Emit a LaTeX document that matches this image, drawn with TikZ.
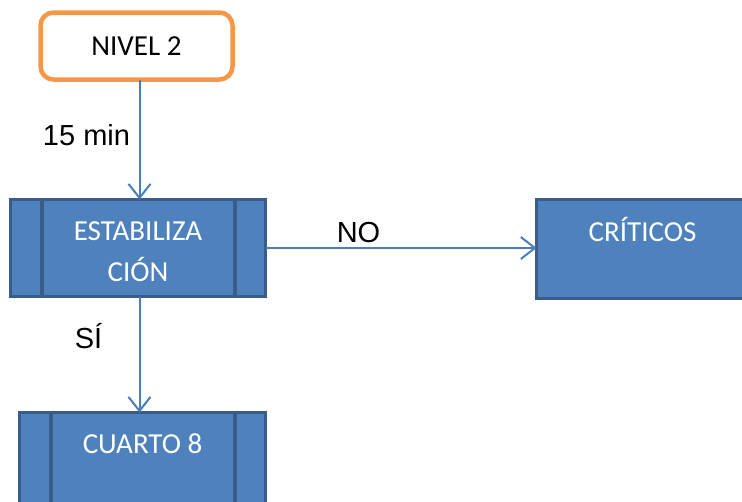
\documentclass[tikz,border=0pt]{standalone}
\usepackage{fontspec}
\setmainfont{Carlito}
\newfontfamily\arialfont{Liberation Sans}
\usetikzlibrary{arrows.meta}
\definecolor{boxfill}{HTML}{4F81BD}
\definecolor{boxedge}{HTML}{385D8A}
\definecolor{orangeedge}{HTML}{F79646}
\definecolor{linkc}{HTML}{4A7EBB}
\newcommand{\toplift}{\rule{0pt}{27pt}}
\begin{document}
\begin{tikzpicture}[x=1pt,y=-1pt,
  procbox/.style={draw=boxedge, fill=boxfill, line width=3pt, text=white,
    font=\fontsize{29}{41}\selectfont, align=center, inner sep=0pt, outer sep=0pt},
  startbox/.style={draw=orangeedge, line width=4.5pt, rounded corners=13pt, fill=white,
    font=\fontsize{29}{35}\selectfont, inner sep=0pt, outer sep=0pt},
  link/.style={draw=linkc, line width=2pt, -{Straight Barb[length=14pt,width=22pt,line width=2pt]}},
  lbl/.style={font=\arialfont\fontsize{29}{35}\selectfont, anchor=base, inner sep=0pt},
  sideline/.style={draw=boxedge, line width=4pt}]
\useasboundingbox (0,0) rectangle (742,501);
\clip (0,0) rectangle (742,501);
\node[startbox, minimum width=192pt, minimum height=67pt] (nivel) at (136.5,46) {NIVEL 2};
\node[procbox, minimum width=255pt, minimum height=97pt] (estab) at (138,248) {\toplift ESTABILIZA\\CIÓN};
\draw[sideline] ([xshift=31.5pt]estab.north west) -- ([xshift=31.5pt]estab.south west);
\draw[sideline] ([xshift=-30.5pt]estab.north east) -- ([xshift=-30.5pt]estab.south east);
\node[procbox, minimum width=212pt, minimum height=99pt] (crit) at (642.5,249) {\toplift CRÍTICOS\\\phantom{C}};
\node[procbox, minimum width=246pt, minimum height=97pt] (cuarto) at (142.5,461) {\toplift CUARTO 8\\\phantom{C}};
\draw[sideline] ([xshift=31.5pt]cuarto.north west) -- ([xshift=31.5pt]cuarto.south west);
\draw[sideline] ([xshift=-30.5pt]cuarto.north east) -- ([xshift=-30.5pt]cuarto.south east);
\draw[link] ([xshift=1.5pt]estab.north |- nivel.south) -- ([xshift=1.5pt]estab.north);
\draw[link] (estab.east) -- (estab.east -| crit.west);
\draw[link] ([xshift=1.5pt]estab.south) -- ([xshift=1.5pt]estab.south |- cuarto.north);
\node[lbl] (t15) at (86.5,145) {15 min};
\node[lbl] (tno) at (358.5,242) {NO};
\node[lbl] (tsi) at (88.5,348) {SÍ};
\end{tikzpicture}
\end{document}
